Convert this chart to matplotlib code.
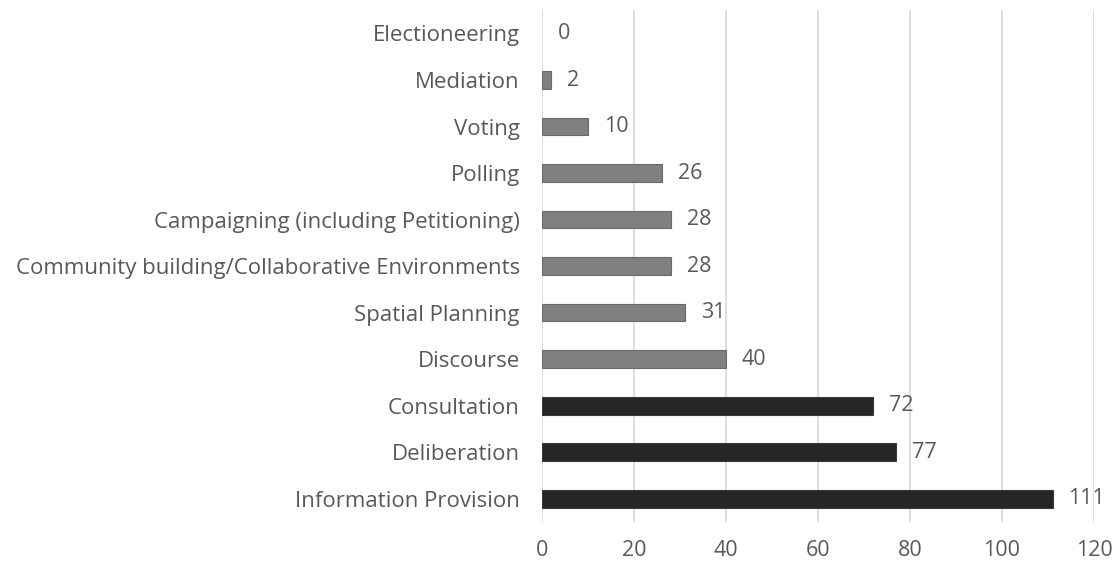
import matplotlib
matplotlib.use("Agg")
import matplotlib.pyplot as plt

categories = ["Information Provision", "Deliberation", "Consultation", "Discourse",
              "Spatial Planning", "Community building/Collaborative Environments",
              "Campaigning (including Petitioning)", "Polling", "Voting", "Mediation",
              "Electioneering"]
values = [111, 77, 72, 40, 31, 28, 28, 26, 10, 2, 0]
groups = ["dark", "dark", "dark", "gray", "gray", "gray", "gray", "gray", "gray", "gray", "gray"]
xticks = [0, 20, 40, 60, 80, 100, 120]

colors = {"dark": "#262626", "gray": "#808080"}
edges = {"dark": "#3a3a3a", "gray": "#6a6a6a"}

plt.rcParams['font.family'] = ['Open Sans', 'DejaVu Sans']
fig = plt.figure(figsize=(11.18, 5.68), dpi=100)
ax = fig.add_axes([0.4848, 0.081, 0.4937, 0.901])

y = list(range(len(categories)))
ax.barh(y, values, height=0.38,
        color=[colors[g] for g in groups],
        edgecolor=[edges[g] for g in groups],
        linewidth=[0.8 if v > 0 else 0 for v in values], zorder=3)

for yi, v in zip(y, values):
    ax.annotate(str(v), (v, yi), xytext=(11.5, 0), textcoords="offset points",
                va="center", ha="left", fontsize=15.5, color="#595959")

ax.set_xlim(0, 120)
ax.set_ylim(-0.5, len(categories) - 0.5)
ax.set_xticks(xticks)
ax.set_yticks(y)
ax.set_yticklabels(categories, fontsize=16)
ax.grid(axis="x", color="#d9d9d9", linewidth=1.2, zorder=0)
for s in ax.spines.values():
    s.set_visible(False)
ax.tick_params(axis="both", length=0, labelcolor="#595959")
ax.tick_params(axis="x", labelsize=15.5, pad=13)
ax.tick_params(axis="y", pad=16)

fig.savefig("out.png", dpi=100, facecolor="white")
